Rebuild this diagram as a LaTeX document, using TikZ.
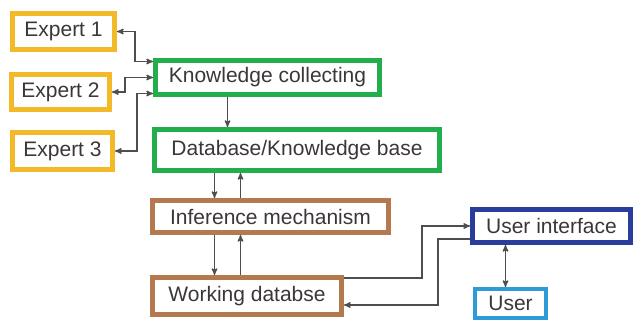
\documentclass[tikz,border=0pt]{standalone}
\usepackage{fontspec}
\setmainfont{Liberation Sans}
\usepackage{tikz}
\usetikzlibrary{arrows,shapes}
\definecolor{expertc}{HTML}{F4B928}
\definecolor{knowc}{HTML}{22AE4A}
\definecolor{infc}{HTML}{B6784F}
\definecolor{uic}{HTML}{2A3C9C}
\definecolor{userc}{HTML}{2C9BD6}
\definecolor{txtc}{HTML}{3C3636}
\definecolor{arrc}{HTML}{4E4E4E}
\begin{document}
\begin{tikzpicture}[x=1pt,y=-1pt,
    block/.style={draw,line width=5pt,inner sep=0pt,text=txtc,
        font=\fontsize{21}{24}\selectfont},
    expert/.style={block,draw=expertc},
    know/.style={block,draw=knowc},
    infer/.style={block,draw=infc},
    link/.style={draw=arrc,line width=1.3pt,>=stealth'}]
    \useasboundingbox (0,0) rectangle (634,323);
    \node[expert,minimum width=102pt,minimum height=36pt] (e1) at (63.5,31.5) {Expert 1};
    \node[expert,minimum width=98pt,minimum height=35pt] (e2) at (60.5,92) {Expert 2};
    \node[expert,minimum width=100pt,minimum height=37pt] (e3) at (62.5,151) {Expert 3};
    \node[know,minimum width=224pt,minimum height=34pt] (kc) at (267.5,77.5) {Knowledge collecting};
    \node[know,minimum width=285pt,minimum height=41pt] (db) at (297,150) {Database/Knowledge base};
    \node[infer,minimum width=236pt,minimum height=32pt] (inf) at (270.5,216.5) {Inference mechanism};
    \node[infer,minimum width=189pt,minimum height=37pt] (wdb) at (247,296) {Working databse};
    \node[block,draw=uic,minimum width=158pt,minimum height=33pt] (ui) at (551.5,226) {User interface};
    \node[block,draw=userc,line width=4pt,minimum width=71pt,minimum height=29pt] (user) at (510.5,303.5) {User};

    \draw[link,<->] (e1.east) -- ++(18,0) |- ([yshift=16pt]kc.west);
    \draw[link,<->] (e2.east) -- ++(13,0) |- (kc.west);
    \draw[link,<->] (e3.east) -- ++(22,0) |- ([yshift=-16pt]kc.west);
    \draw[link,->] ([xshift=-40pt]kc.south) -- ([xshift=-40pt]kc.south |- db.north);
    \draw[link,->] ([xshift=-56pt]inf.north |- db.south) -- ([xshift=-56pt]inf.north);
    \draw[link,->] ([xshift=-30pt]inf.north) -- ([xshift=-30pt]inf.north |- db.south);
    \draw[link,->] ([xshift=-56pt]inf.south) -- ([xshift=-56pt]inf.south |- wdb.north);
    \draw[link,->] ([xshift=-30pt]inf.south |- wdb.north) -- ([xshift=-30pt]inf.south);
    \draw[link,->] ([yshift=18pt]wdb.east) -- ++(78,0) |- (ui.west);
    \draw[link,->] ([yshift=-13pt]ui.west) -- ++(-32,0) |- ([yshift=-9pt]wdb.east);
    \draw[link,<->] ([xshift=-5pt]user.north) -- ([xshift=-5pt]user.north |- ui.south);
\end{tikzpicture}
\end{document}
